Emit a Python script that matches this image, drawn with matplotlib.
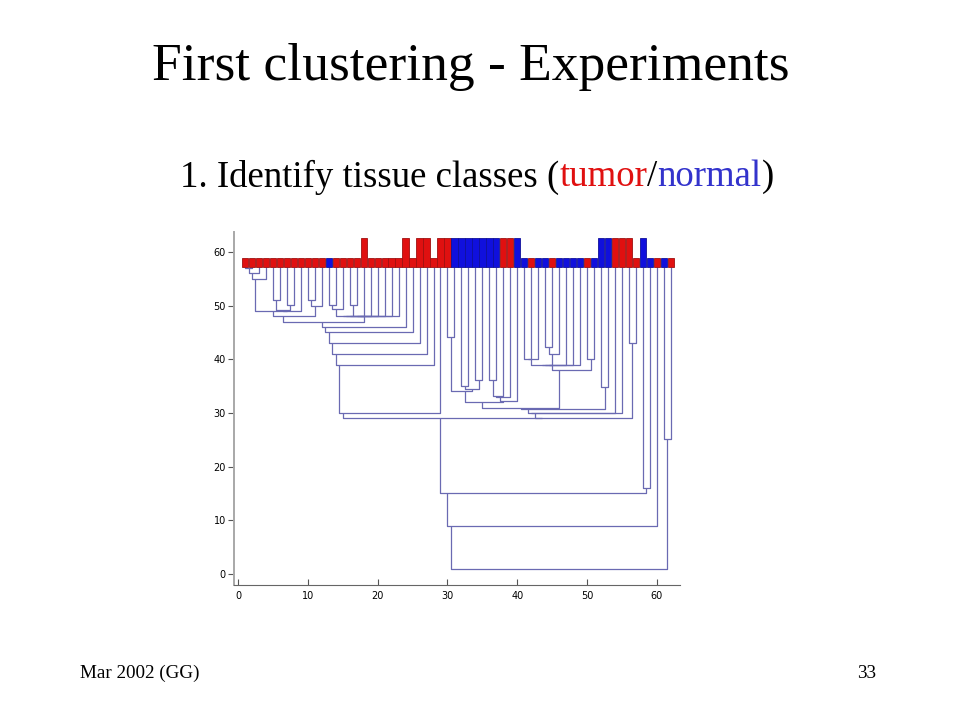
import matplotlib
matplotlib.use('Agg')
import matplotlib.pyplot as plt

# class of each leaf, left to right (r = tumor, b = normal)
leaf_class = list("rrrrrrrrrrrr" "b" "rrrrrrrrrrrrrrrrr" "bbbbbbb" "rr" "b"
                  "b" "r" "bb" "r" "bbbb" "r" "bbb" "rrrr" "bb" "r" "b" "r")
# leaves drawn with a tall box
tall_leaves = [18, 24, 26, 27, 29, 30, 31, 32, 33, 34, 35, 36, 37, 38, 39, 40,
               52, 53, 54, 55, 56, 58]

# merges of contiguous leaf ranges: (first leaf, last leaf of left part, last leaf, level)
merges = [
    (1, 1, 2, 56.9), (1, 2, 3, 56.0), (1, 3, 4, 55.0),
    (5, 5, 6, 51.0), (7, 7, 8, 50.1), (5, 6, 8, 49.2), (5, 8, 9, 49.0),
    (1, 4, 9, 48.9), (10, 10, 11, 51.0), (10, 11, 12, 50.0), (1, 9, 12, 48.0),
    (13, 13, 14, 50.1), (13, 14, 15, 49.3), (16, 16, 17, 50.1),
    (13, 15, 17, 48.0), (13, 17, 18, 48.0), (13, 18, 19, 48.0),
    (13, 19, 20, 48.0), (13, 20, 21, 48.0), (13, 21, 22, 48.0),
    (13, 22, 23, 48.0), (1, 12, 23, 47.0), (1, 23, 24, 46.0),
    (1, 24, 25, 45.0), (1, 25, 26, 43.0), (1, 26, 27, 41.0),
    (1, 27, 28, 39.0), (1, 28, 29, 29.9),
    (30, 30, 31, 44.1), (32, 32, 33, 35.0), (34, 34, 35, 36.1),
    (32, 33, 35, 34.5), (30, 31, 35, 34.1), (36, 36, 37, 36.1),
    (36, 37, 38, 33.2), (36, 38, 39, 33.0), (36, 39, 40, 32.3),
    (30, 35, 40, 32.1),
    (41, 41, 42, 40.1), (41, 42, 43, 40.0), (44, 44, 45, 42.3),
    (44, 45, 46, 41.0), (41, 43, 46, 38.9), (41, 46, 47, 38.9),
    (41, 47, 48, 38.9), (41, 48, 49, 38.9), (50, 50, 51, 40.0),
    (41, 49, 51, 38.0), (30, 40, 51, 31.0), (52, 52, 53, 34.9),
    (30, 51, 53, 30.8), (30, 53, 54, 30.0), (30, 54, 55, 29.9),
    (56, 56, 57, 43.1), (30, 55, 57, 29.1), (1, 29, 57, 29.0),
    (58, 58, 59, 16.0), (1, 57, 59, 15.0), (1, 59, 60, 8.9),
    (61, 61, 62, 25.1), (1, 60, 62, 1.0),
]

x_ticks = [0, 10, 20, 30, 40, 50, 60]
y_ticks = [0, 10, 20, 30, 40, 50, 60]

box_base = 57.2
box_short = 58.8
box_tall = 62.6

fig = plt.figure(figsize=(9.6, 7.2), dpi=100)
ax = fig.add_axes([0.2438, 0.1875, 0.4645, 0.4903])

# dendrogram links
top = {}
for a, m, b, h in merges:
    yl = top.get((a, m), box_base)
    yr = top.get((m + 1, b), box_base)
    xl = (a + m) / 2
    xr = (m + 1 + b) / 2
    ax.plot([xl, xl, xr, xr], [yl, h, h, yr], color='#6a6ab2', lw=0.9,
            solid_capstyle='butt', zorder=2)
    top[(a, b)] = h

# class boxes on the leaves
leaves = list(range(1, len(leaf_class) + 1))
face = {'r': '#e01010', 'b': '#1010dd'}
edge = {'r': '#a01010', 'b': '#10109a'}
heights = [(box_tall if i in tall_leaves else box_short) - box_base for i in leaves]
ax.bar(leaves, heights, bottom=box_base, width=0.9,
       color=[face[c] for c in leaf_class],
       edgecolor=[edge[c] for c in leaf_class], linewidth=0.6, zorder=3)

ax.set_xlim(-0.57, 63.3)
ax.set_ylim(-2.05, 63.7)
ax.set_xticks(x_ticks)
ax.set_yticks(y_ticks)
ax.tick_params(axis='x', direction='in', length=4, labelsize=7, pad=4,
               color='#555555')
ax.tick_params(axis='y', direction='out', length=4, labelsize=7, pad=2,
               color='#555555')
for s in ['top', 'right']:
    ax.spines[s].set_visible(False)
ax.spines['left'].set_color('#a8a8a8')
ax.spines['left'].set_linewidth(1.4)
ax.spines['bottom'].set_color('#666666')
ax.spines['bottom'].set_linewidth(0.8)

serif = ['Liberation Serif', 'DejaVu Serif']
fig.text(0.4906, 0.907, "First clustering - Experiments", ha='center',
         va='center', fontsize=38.5, family=serif)

# subtitle with coloured words
parts = [("1. Identify tissue classes (", 'black'), ("tumor", '#e01010'),
         ("/", 'black'), ("normal", '#3333cc'), (")", 'black')]
fig.canvas.draw()
r = fig.canvas.get_renderer()
widths = []
for txt, col in parts:
    t = fig.text(0, 0, txt, fontsize=26.5, family=serif)
    widths.append(t.get_window_extent(r).width)
    t.remove()
x = 477 - sum(widths) / 2
for (txt, col), w in zip(parts, widths):
    fig.text(x / 960, 0.754, txt, fontsize=26.5, family=serif, color=col,
             va='center', ha='left')
    x += w

fig.text(80 / 960, 1 - 673 / 720, "Mar 2002 (GG)", fontsize=13.8, family=serif,
         va='center', ha='left')
fig.text(876 / 960, 1 - 673 / 720, "33", fontsize=13.8, family=serif,
         va='center', ha='right')

fig.savefig('out.png', dpi=100)
